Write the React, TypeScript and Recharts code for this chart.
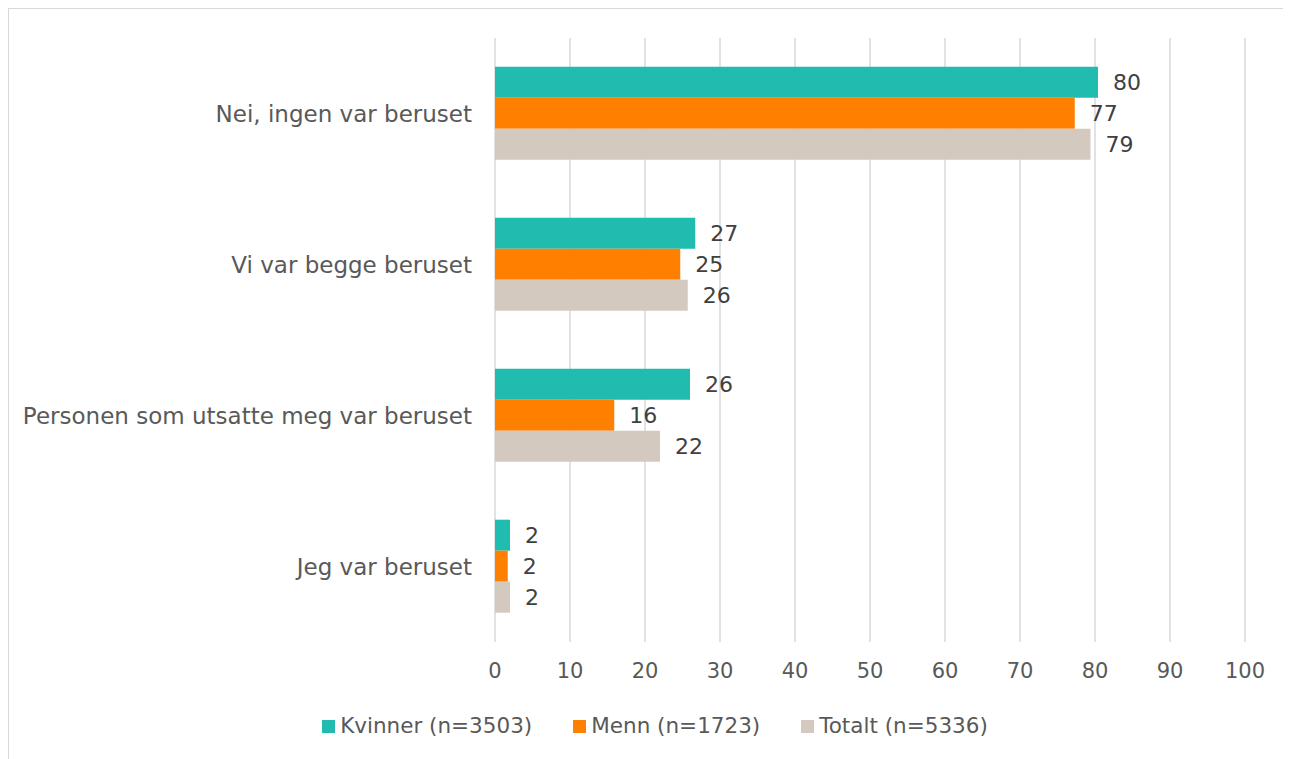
import React from "react";
import { BarChart, Bar, XAxis, YAxis, CartesianGrid, Legend, LabelList } from "recharts";

const categories = [
  "Nei, ingen var beruset",
  "Vi var begge beruset",
  "Personen som utsatte meg var beruset",
  "Jeg var beruset",
];
const kvinner = [80.4, 26.7, 26.0, 2.0];
const menn = [77.3, 24.7, 15.9, 1.7];
const totalt = [79.4, 25.7, 22.0, 2.0];
const xTicks = [0, 10, 20, 30, 40, 50, 60, 70, 80, 90, 100];

const seriesNames = ["Kvinner (n=3503)", "Menn (n=1723)", "Totalt (n=5336)"];
const seriesColors = ["#20BCAF", "#FF7F00", "#D4C9BF"];

const data = categories.map((c, i) => ({
  name: c,
  kvinner: kvinner[i],
  menn: menn[i],
  totalt: totalt[i],
}));

const FONT = "'DejaVu Sans', sans-serif";

const LegendContent = () => (
  <div style={{ height: 57, width: 1282, display: "flex", justifyContent: "center", paddingLeft: 10, boxSizing: "border-box", fontFamily: FONT }}>
    <div style={{ display: "flex", alignItems: "center", marginTop: 11, height: 26 }}>
      {seriesNames.map((n, i) => (
        <div key={n} style={{ display: "flex", alignItems: "center", marginRight: i < 2 ? 41 : 0 }}>
          <span style={{ width: 13, height: 13, background: seriesColors[i], display: "inline-block", marginRight: 5 }} />
          <span style={{ fontSize: 21.5, color: "#595959", lineHeight: "26px" }}>{n}</span>
        </div>
      ))}
    </div>
  </div>
);

const fmt = (v: any) => Math.round(Number(v));

export default function App() {
  const keys = ["kvinner", "menn", "totalt"];
  return (
    <div style={{ borderTop: "1px solid #d9d9d9", borderLeft: "1px solid #d9d9d9", width: 1282, height: 750 }}>
      <BarChart
        width={1282}
        height={750}
        data={data}
        layout="vertical"
        margin={{ top: 29, right: 46, left: 0, bottom: 0 }}
        barCategoryGap="19%"
        barGap={0}
      >
        <CartesianGrid horizontal={false} vertical={true} stroke="#d9d9d9" strokeWidth={1.5} />
        <XAxis
          type="number"
          domain={[0, 100]}
          ticks={xTicks}
          axisLine={false}
          tickLine={false}
          tickSize={0}
          tickMargin={21}
          height={60}
          interval={0}
          tick={{ fill: "#595959", fontSize: 21, fontFamily: FONT }}
        />
        <YAxis
          type="category"
          dataKey="name"
          width={486}
          axisLine={false}
          tickLine={false}
          tickSize={0}
          tickMargin={23}
          interval={0}
          tick={{ fill: "#595959", fontSize: 23, fontFamily: FONT }}
        />
        <Legend verticalAlign="bottom" wrapperStyle={{ left: 0, width: 1282 }} content={<LegendContent />} />
        {keys.map((k, i) => (
          <Bar key={k} dataKey={k} name={seriesNames[i]} fill={seriesColors[i]} isAnimationActive={false}>
            <LabelList
              dataKey={k}
              position="right"
              offset={15}
              formatter={fmt}
              style={{ fill: "#404040", fontSize: 22, fontFamily: FONT }}
            />
          </Bar>
        ))}
      </BarChart>
    </div>
  );
}
